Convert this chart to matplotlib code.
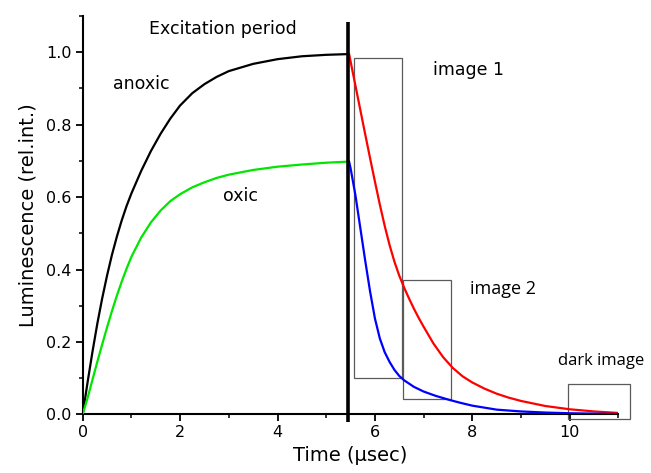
import matplotlib
matplotlib.use("Agg")
import matplotlib.pyplot as plt
from matplotlib.patches import Rectangle
from matplotlib.ticker import MultipleLocator

# ---- data ----
anoxic_t = [0.0, 0.1, 0.2, 0.3, 0.4, 0.5, 0.6, 0.7, 0.8, 0.9, 1.0, 1.2, 1.4, 1.6, 1.8,
            2.0, 2.25, 2.5, 2.75, 3.0, 3.5, 4.0, 4.5, 5.0, 5.45]
anoxic_y = [0.0, 0.088, 0.172, 0.25, 0.32, 0.383, 0.44, 0.49, 0.535, 0.575, 0.61, 0.672,
            0.727, 0.775, 0.817, 0.853, 0.887, 0.912, 0.932, 0.948, 0.968, 0.981, 0.989,
            0.993, 0.995]

oxic_t = [0.0, 0.1, 0.2, 0.3, 0.4, 0.5, 0.6, 0.7, 0.8, 0.9, 1.0, 1.2, 1.4, 1.6, 1.8,
          2.0, 2.25, 2.5, 2.75, 3.0, 3.5, 4.0, 4.5, 5.0, 5.45]
oxic_y = [0.0, 0.045, 0.095, 0.145, 0.193, 0.24, 0.285, 0.327, 0.366, 0.402, 0.435, 0.488,
          0.53, 0.563, 0.589, 0.608, 0.627, 0.641, 0.653, 0.662, 0.675, 0.684, 0.69,
          0.695, 0.698]

red_t = [5.47, 5.5, 5.6, 5.7, 5.8, 5.9, 6.0, 6.1, 6.2, 6.3, 6.4, 6.5, 6.6, 6.7, 6.8, 6.9,
         7.0, 7.2, 7.4, 7.6, 7.8, 8.0, 8.25, 8.5, 8.75, 9.0, 9.5, 10.0, 10.5, 10.98]
red_y = [0.995, 0.975, 0.908, 0.841, 0.774, 0.708, 0.643, 0.580, 0.521, 0.468, 0.422,
         0.383, 0.350, 0.320, 0.292, 0.266, 0.242, 0.196, 0.158, 0.128, 0.105, 0.088,
         0.071, 0.057, 0.046, 0.037, 0.023, 0.014, 0.008, 0.004]

blue_t = [5.47, 5.5, 5.6, 5.7, 5.8, 5.9, 6.0, 6.1, 6.2, 6.3, 6.4, 6.5, 6.6, 6.8, 7.0,
          7.25, 7.5, 7.75, 8.0, 8.5, 9.0, 9.5, 10.0, 10.5, 10.98]
blue_y = [0.698, 0.68, 0.605, 0.515, 0.425, 0.34, 0.265, 0.21, 0.172, 0.145, 0.123,
          0.106, 0.094, 0.076, 0.063, 0.051, 0.041, 0.032, 0.024, 0.013, 0.008, 0.005,
          0.003, 0.002, 0.001]

excitation_end = 5.45
# boxes: (x0, x1, y0, y1)
box_image1 = (5.57, 6.56, 0.10, 0.985)
box_image2 = (6.57, 7.57, 0.042, 0.37)
box_dark = (9.97, 11.23, -0.014, 0.084)

x_ticks = [0, 2, 4, 6, 8, 10]
y_ticks = [0.0, 0.2, 0.4, 0.6, 0.8, 1.0]

fig = plt.figure(figsize=(6.51, 4.73), dpi=100)
ax = fig.add_axes([0.127, 0.124, 0.823, 0.842])

ax.plot(anoxic_t, anoxic_y, color="black", lw=1.6, zorder=3)
ax.plot(oxic_t, oxic_y, color="#00e600", lw=1.6, zorder=3)
ax.plot(red_t, red_y, color="#ff0000", lw=1.6, zorder=3)
ax.plot(blue_t, blue_y, color="#0000ff", lw=1.6, zorder=3)

ax.plot([excitation_end, excitation_end], [-0.02, 1.085], color="black", lw=2.6,
        clip_on=False, zorder=4, solid_capstyle="butt")

for (x0, x1, y0, y1) in (box_image1, box_image2, box_dark):
    ax.add_patch(Rectangle((x0, y0), x1 - x0, y1 - y0, fill=False,
                           edgecolor="#5a5a5a", lw=0.9, clip_on=False, zorder=2))

ax.text(2.88, 1.065, "Excitation period", fontsize=12.5, ha="center", va="center")
ax.text(1.21, 0.912, "anoxic", fontsize=12.5, ha="center", va="center")
ax.text(3.25, 0.603, "oxic", fontsize=12.5, ha="center", va="center")
ax.text(7.92, 0.951, "image 1", fontsize=12.5, ha="center", va="center")
ax.text(8.62, 0.346, "image 2", fontsize=13, ha="center", va="center",
        family=["Open Sans", "DejaVu Sans"])
ax.text(10.65, 0.146, "dark image", fontsize=12, ha="center", va="center",
        family=["Open Sans", "DejaVu Sans"], clip_on=False)

ax.set_xlim(0, 11)
ax.set_ylim(0, 1.1)
ax.set_xticks(x_ticks)
ax.set_yticks(y_ticks)
ax.set_yticklabels([f"{v:.1f}" for v in y_ticks])
ax.xaxis.set_minor_locator(MultipleLocator(1))
ax.yaxis.set_minor_locator(MultipleLocator(0.1))
ax.tick_params(which="major", direction="out", length=5, width=1.3, labelsize=11.5, pad=3)
ax.tick_params(which="minor", direction="out", length=3, width=1.1)

for s in ("top", "right"):
    ax.spines[s].set_visible(False)
for s in ("left", "bottom"):
    ax.spines[s].set_linewidth(1.5)

ax.set_xlabel("Time (\u00b5sec)", fontsize=14, labelpad=4)
ax.set_ylabel("Luminescence (rel.int.)", fontsize=14, labelpad=6)

fig.savefig("out.png", dpi=100)
